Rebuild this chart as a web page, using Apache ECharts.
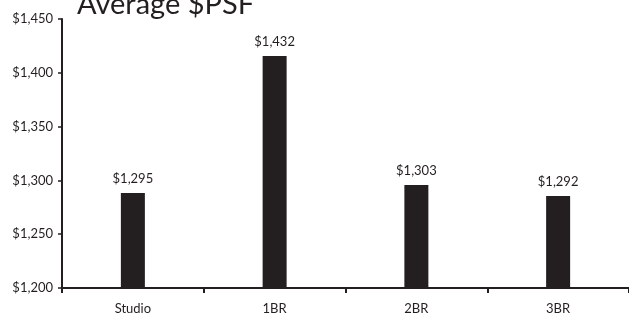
<!DOCTYPE html>
<html>
<head>
<meta charset="utf-8">
<script src="https://cdn.jsdelivr.net/npm/echarts@6/dist/echarts.min.js"></script>
<style>html,body{margin:0;padding:0;background:#fff;}#c{width:629px;height:320px;}</style>
</head>
<body>
<div id="c"></div>
<script>
const categories = ['Studio', '1BR', '2BR', '3BR'];
const avgPsf = [1295, 1432, 1303, 1292];
const yTicks = [1200, 1250, 1300, 1350, 1400, 1450];
const titleText = 'Average $PSF';

const fmt = v => '$' + Number(v).toLocaleString('en-US');
const ink = '#231f20';
const font = 'Lato';

const chart = echarts.init(document.getElementById('c'), null, {renderer: 'canvas'});
chart.setOption({
  animation: false,
  backgroundColor: '#ffffff',
  title: {
    text: titleText, left: 72, top: -15,
    textStyle: {fontFamily: font, fontSize: 29, fontWeight: 'normal', color: ink}
  },
  grid: {left: 62, top: 19, width: 569, height: 269},
  xAxis: {
    type: 'category', data: categories,
    axisLine: {lineStyle: {color: ink, width: 2}},
    axisTick: {show: true, length: 5, lineStyle: {color: ink, width: 2}},
    axisLabel: {color: ink, fontFamily: font, fontSize: 13, margin: 14}
  },
  yAxis: [{
    type: 'value', min: yTicks[0], max: yTicks[yTicks.length - 1], interval: 50,
    axisLine: {show: true, lineStyle: {color: ink, width: 2}},
    axisTick: {show: true, length: 4, lineStyle: {color: ink, width: 1.5}},
    splitLine: {show: false},
    axisLabel: {color: ink, fontFamily: font, fontSize: 13, margin: 9, formatter: fmt}
  }, {
    type: 'value', min: 1200, max: 1469, show: false, splitLine: {show: false}
  }],
  series: [{
    type: 'bar', data: avgPsf, yAxisIndex: 1, barWidth: 24,
    itemStyle: {color: ink},
    label: {show: true, position: 'top', distance: 8, color: ink, fontFamily: font, fontSize: 13, formatter: p => fmt(p.value)}
  }]
});
</script>
</body>
</html>
